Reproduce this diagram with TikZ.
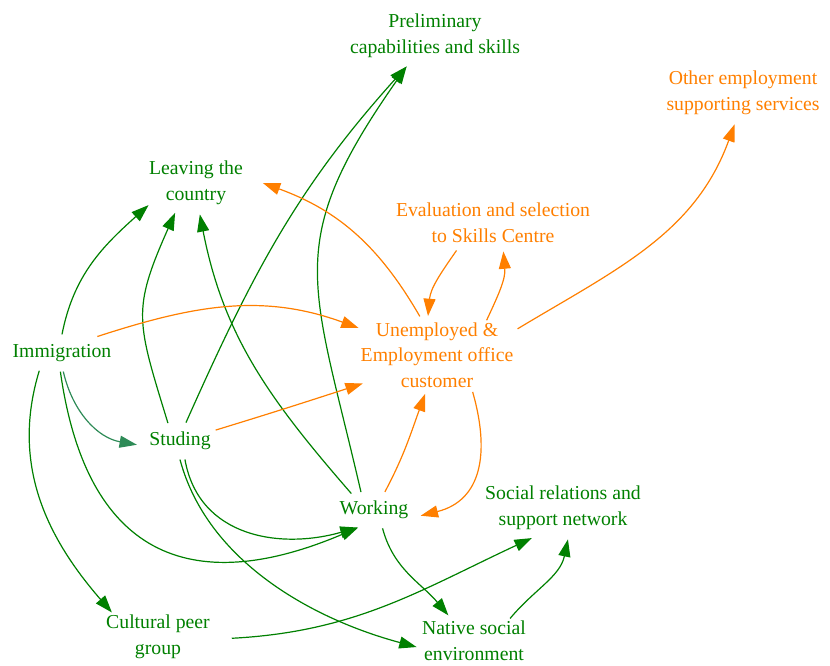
\documentclass[tikz,border=0pt]{standalone}
\usepackage{fontspec}
\setmainfont{Liberation Serif}
\usetikzlibrary{arrows.meta,shapes.geometric}
\definecolor{leafgreen}{RGB}{0,128,0}
\definecolor{officeorange}{RGB}{255,127,0}
\definecolor{paleseagreen}{RGB}{46,139,87}
\tikzset{factor/.style={ellipse, inner sep=0pt, minimum height=27pt, align=center, text=leafgreen},
	office/.style={factor, text=officeorange}}
\begin{document}
\begin{tikzpicture}[x=0.75pt, y=0.75pt, font=\fontsize{14.8}{19.2}\selectfont, line join=round, line width=0.9pt, >={Triangle[length=13pt,width=9pt]}]
	\useasboundingbox (0,0) rectangle (830,666);
	\node[factor] (prelim) at (435,630) {Preliminary\\capabilities and skills};
	\node[office] (other) at (743,573) {Other employment\\supporting services};
	\node[factor] (leave) at (196,483) {Leaving the\\country};
	\node[office] (eval) at (493,443) {Evaluation and selection\\to Skills Centre};
	\node[factor, minimum width=114pt] (imm) at (62,313) {Immigration};
	\node[office, inner ysep=-4pt] (unemp) at (437,311) {Unemployed \&\\Employment office\\customer};
	\node[factor] (stud) at (180,225) {Studing};
	\node[factor] (work) at (374,156) {Working};
	\node[factor] (social) at (563,158) {Social relations and\\support network};
	\node[factor] (cult) at (158,29) {Cultural peer\\group};
	\node[factor, inner xsep=-8pt] (native) at (474,25) {Native social\\environment};
	% green links
	\foreach \a/\b/\o/\i/\l in {imm.90/leave.205/79/222/1, imm.265/work.228/-82/203/1.4,
		imm.218/cult.152/253/131/1, stud.124/leave.235/107/246/1.3, stud.72/prelim.227/66/228/1,
		stud.285/work.227/-80/196/1.1, stud.270/native.186/-75/165/0.9, work.144/leave.277/131/281/1,
		work.126/prelim.227/103/235/1.3, work.295/native.135/-75/130/1, cult.359/social.224/3/205/1,
		native.32/social.279/50/258/1}
		\draw[->, leafgreen] (\a) to[out=\o, in=\i, looseness=\l] (\b);
	\draw[->, paleseagreen] (imm.274) to[out=-77, in=170] (stud.185);
	% orange links
	\foreach \a/\b/\o/\i/\l in {imm.25/unemp.161/18/160/1, stud.17/unemp.201/17/198/1,
		work.59/unemp.253/62/250/1, unemp.314/work.353/286/14/1.2, unemp.114/leave.0/120/340/1,
		unemp.35/eval.290/65/275/1, eval.217/unemp.103/235/85/1, unemp.18/other.255/31/250/1}
		\draw[->, officeorange] (\a) to[out=\o, in=\i, looseness=\l] (\b);
\end{tikzpicture}
\end{document}
